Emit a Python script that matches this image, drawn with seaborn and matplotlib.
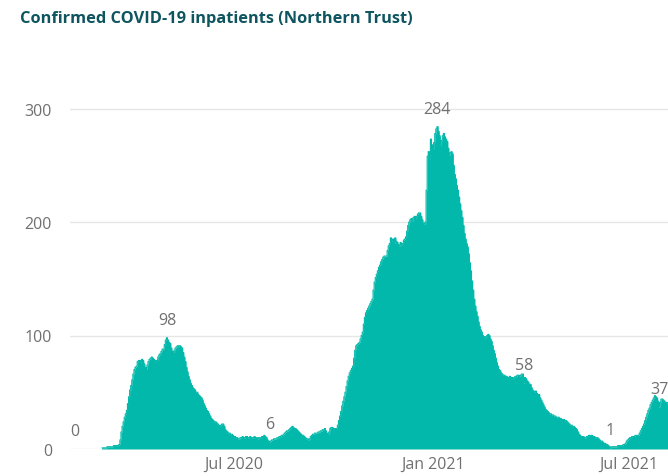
import matplotlib
matplotlib.use("Agg")
import matplotlib.pyplot as plt
import pandas as pd
import seaborn as sns

# Daily confirmed COVID-19 inpatients, one list per month
start_date = "2020-02-05"
feb_2020 = [0] * 25
mar_2020 = [1, 1, 1, 1, 1, 2, 2, 2, 2, 2, 2, 3, 3, 3, 3, 3,
            4, 8, 15, 20, 24, 28, 31, 34, 40, 46, 52, 56, 61, 66, 70]
apr_2020 = [72, 73, 77, 78, 78, 77, 79, 78, 75, 72, 70, 74, 77, 79, 80,
            81, 80, 79, 77, 78, 78, 81, 83, 84, 86, 88, 88, 92, 96, 98]
may_2020 = [96, 94, 93, 89, 86, 85, 87, 89, 90, 91, 91, 91, 90, 89, 85,
            81, 77, 72, 68, 64, 61, 58, 56, 54, 53, 52, 50, 50, 48, 47, 46]
jun_2020 = [45, 43, 40, 38, 36, 34, 33, 31, 29, 27, 26, 25, 24, 24, 23,
            22, 21, 20, 21, 22, 22, 20, 17, 16, 15, 14, 14, 13, 13, 12]
jul_2020 = [11, 11, 10, 10, 9, 9, 10, 10, 11, 10, 10, 11, 11, 10, 10, 11,
            10, 10, 10, 11, 10, 10, 9, 10, 10, 10, 11, 11, 12, 11, 10]
aug_2020 = [8, 7, 6, 7, 8, 8, 9, 9, 9, 10, 10, 11, 11, 12, 12, 13,
            14, 15, 16, 16, 17, 18, 19, 20, 19, 18, 18, 17, 16, 15, 14]
sep_2020 = [13, 12, 12, 11, 10, 9, 9, 8, 9, 11, 12, 13, 13, 14, 14,
            14, 15, 15, 16, 16, 17, 17, 18, 16, 14, 13, 15, 18, 19, 19]
oct_2020 = [18, 18, 18, 18, 21, 25, 29, 33, 38, 42, 46, 50, 55, 60, 64, 67,
            69, 71, 73, 80, 87, 91, 92, 93, 94, 97, 100, 103, 110, 116, 120]
nov_2020 = [122, 124, 126, 128, 130, 132, 140, 147, 151, 154, 157, 160, 162,
            165, 167, 169, 170, 170, 170, 175, 179, 181, 186, 183, 185, 181,
            186, 183, 182, 180]
dec_2020 = [179, 182, 180, 181, 184, 185, 187, 192, 197, 200, 202, 203, 201,
            204, 205, 203, 205, 207, 208, 208, 205, 202, 199, 198, 200, 228,
            258, 262, 255, 273, 268]
jan_2021 = [264, 270, 278, 282, 284, 280, 276, 268, 272, 276, 278, 275, 273,
            271, 265, 259, 261, 262, 260, 250, 242, 238, 232, 228, 222, 216,
            210, 204, 197, 190, 185]
feb_2021 = [181, 178, 172, 164, 157, 148, 140, 132, 126, 121, 117, 112, 108,
            105, 103, 100, 99, 98, 99, 100, 101, 100, 97, 95, 91, 87, 84, 80]
mar_2021 = [76, 73, 70, 69, 67, 66, 65, 65, 64, 64, 63, 63, 64, 63, 63, 62,
            63, 64, 64, 65, 65, 64, 65, 66, 66, 58, 63, 62, 60, 59, 57]
apr_2021 = [57, 54, 52, 51, 50, 51, 49, 48, 48, 45, 43, 41, 39, 37, 35,
            34, 33, 32, 31, 31, 30, 30, 29, 29, 28, 28, 28, 27, 27, 26]
may_2021 = [26, 26, 25, 25, 24, 23, 22, 21, 21, 20, 20, 19, 18, 17, 15, 13,
            12, 11, 11, 11, 10, 10, 11, 11, 12, 12, 12, 12, 11, 11, 10]
jun_2021 = [10, 10, 9, 8, 7, 7, 6, 5, 5, 4, 4, 3, 2, 1, 2,
            2, 2, 2, 2, 2, 3, 3, 3, 3, 3, 4, 4, 5, 7, 8]
jul_2021 = [9, 10, 10, 11, 11, 11, 12, 12, 12, 12, 14, 16, 18, 20, 22, 25,
            28, 31, 34, 36, 39, 41, 43, 45, 47, 46, 45, 42, 37, 41, 44]
aug_2021 = [44, 43, 42, 41, 40, 41]

# Days carrying a data label
labelled_dates = ["2020-02-05", "2020-04-30", "2020-08-03",
                  "2021-01-05", "2021-03-26", "2021-06-14", "2021-07-29"]

# Axis ticks
y_ticks = [0, 100, 200, 300]
x_tick_dates = ["2020-07-01", "2021-01-01", "2021-07-01"]
x_tick_labels = ["Jul 2020", "Jan 2021", "Jul 2021"]

values = (feb_2020 + mar_2020 + apr_2020 + may_2020 + jun_2020 + jul_2020
          + aug_2020 + sep_2020 + oct_2020 + nov_2020 + dec_2020 + jan_2021
          + feb_2021 + mar_2021 + apr_2021 + may_2021 + jun_2021 + jul_2021
          + aug_2021)
df = pd.DataFrame({
    "date": pd.date_range(start_date, periods=len(values), freq="D"),
    "inpatients": values,
})
# the outline starts with the first admitted patient
first_case = df.index[df["inpatients"] > 0][0]
outline = df.loc[first_case:]

TEAL = "#01B8AA"
GREY = "#707070"
GRID = "#E6E6E6"
FONT = ["Open Sans", "DejaVu Sans"]

sns.set_theme(style="white")
plt.rcParams["font.family"] = FONT

W, H = 668, 477
fig = plt.figure(figsize=(W / 100, H / 100), dpi=100)
ax_left, ax_right, ax_bottom, ax_top = 70, 668, 450, 75
ax = fig.add_axes([ax_left / W, 1 - ax_bottom / H,
                   (ax_right - ax_left) / W, (ax_bottom - ax_top) / H])

sns.lineplot(data=outline, x="date", y="inpatients", ax=ax, color=TEAL,
             linewidth=0.8, drawstyle="steps-mid")
ax.fill_between(df["date"], df["inpatients"], 0, color=TEAL, linewidth=0,
                step="mid")

# Value labels above selected days
lookup = df.set_index("date")["inpatients"]
for d in labelled_dates:
    ts = pd.Timestamp(d)
    v = lookup[ts]
    ax.annotate(str(v), xy=(ts, v), xytext=(0, 10), textcoords="offset pixels",
                ha="center", va="bottom", fontsize=11.5, color=GREY)

ref = pd.Timestamp("2020-07-01")
ax.set_xlim(ref - pd.Timedelta(days=151.6), ref + pd.Timedelta(days=401.1))
ax.set_ylim(0, (ax_bottom - ax_top) / 1.135)

ax.set_yticks(y_ticks)
ax.set_yticklabels([str(t) for t in y_ticks])
ax.set_xticks(pd.to_datetime(x_tick_dates))
ax.set_xticklabels(x_tick_labels)
ax.tick_params(axis="y", length=0, pad=13, labelsize=11.5, labelcolor=GREY)
ax.tick_params(axis="x", length=0, pad=5, labelsize=11.5, labelcolor=GREY)
ax.set_xlabel("")
ax.set_ylabel("")

ax.grid(axis="y", color=GRID, linewidth=1)
ax.grid(axis="x", visible=False)
ax.set_axisbelow(True)
sns.despine(ax=ax, left=True, bottom=True)

fig.text(20 / W, 1 - 19 / H, "Confirmed COVID-19 inpatients (Northern Trust)",
         fontsize=11.8, fontweight="bold", color="#0E5560",
         ha="left", va="center")

fig.savefig("out.png", dpi=100)
